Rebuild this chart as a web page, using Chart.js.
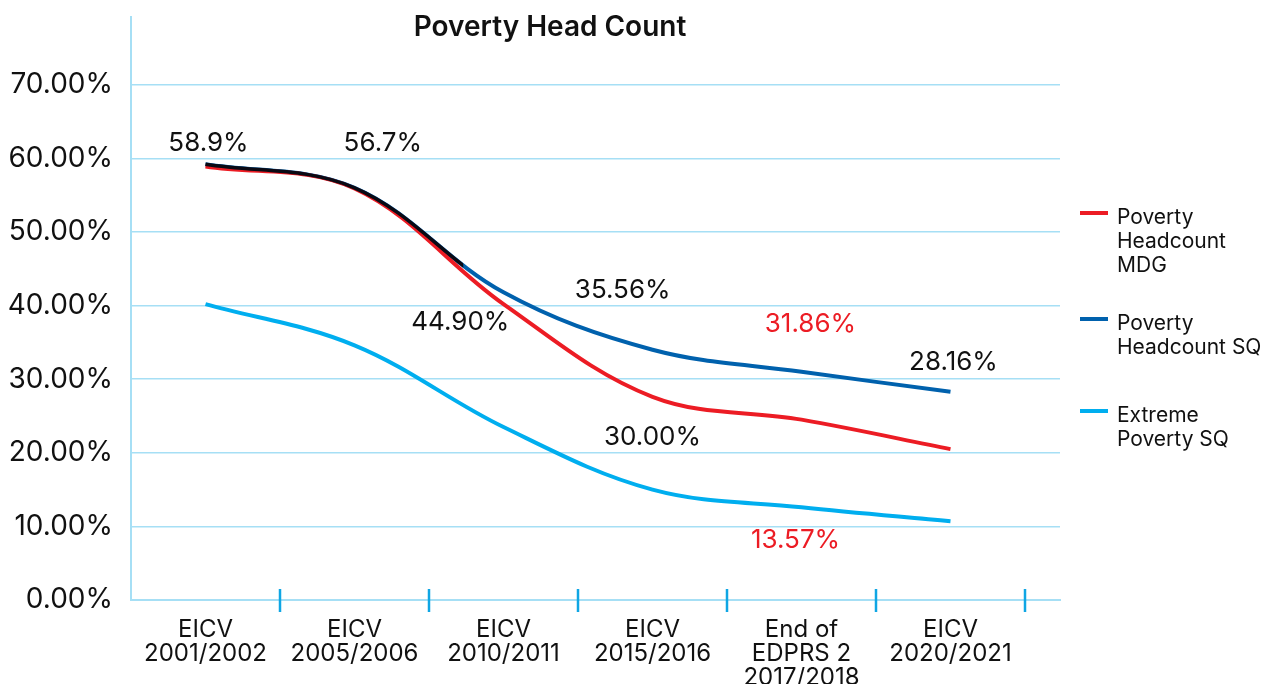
<!DOCTYPE html>
<html>
<head>
<meta charset="utf-8">
<script src="https://cdn.jsdelivr.net/npm/chart.js@4.4.1/dist/chart.umd.min.js"></script>
<style>
  html, body { margin: 0; padding: 0; background: #fff; }
  #wrap { width: 1266px; height: 684px; position: relative; }
</style>
</head>
<body>
<div id="wrap"><canvas id="chart"></canvas></div>
<script>
// categories on the x axis (one per survey round)
const categories = [
    ['EICV', '2001/2002'],
    ['EICV', '2005/2006'],
    ['EICV', '2010/2011'],
    ['EICV', '2015/2016'],
    ['End of', 'EDPRS 2', '2017/2018'],
    ['EICV', '2020/2021']
];
const categoryPos = [0.5, 1.5, 2.5, 3.5, 4.5, 5.5];
const boundaryTicks = [1, 2, 3, 4, 5, 6];

// series values (%)
const mdgValues = [58.9, 55.9, 40.2, 27.6, 24.5, 20.5];
const sqValues = [59.2, 56.0, 41.8, 34.0, 31.0, 28.3];
const extremeValues = [40.2, 34.6, 23.5, 15.0, 12.6, 10.7];
// the black overlay follows the SQ curve and stops here (x units)
const historicEnd = 2.23;

const yTicks = [0, 10, 20, 30, 40, 50, 60, 70];

// value labels written on the plot
const noteText = ['58.9%', '56.7%', '44.90%', '35.56%', '30.00%', '31.86%', '13.57%', '28.16%'];
const noteX = [0.52, 1.69, 2.21, 3.30, 3.50, 4.56, 4.46, 5.52];
const noteY = [62.1, 62.1, 37.8, 42.1, 22.1, 37.5, 8.15, 32.3];
const noteRed = [false, false, false, false, false, true, true, false];

const legendNames = [['Poverty', 'Headcount', 'MDG'], ['Poverty', 'Headcount SQ'], ['Extreme', 'Poverty SQ']];

const RED = '#ec1c24', BLUE = '#0061ad', LIGHT = '#00aeef', GRID = '#a6dff5';
const FONT = 'Inter, "Noto Sans", sans-serif';
const X_MAX = 6.235, PLOT_RIGHT = 1060, PLOT_LEFT = 131;

function pts(xs, ys) { return ys.map((v, i) => ({ x: xs[i], y: v })); }

const extras = {
    id: 'extras',
    afterDraw(chart) {
        const { ctx, scales: { x, y } } = chart;
        ctx.save();
        // tick marks between categories
        ctx.strokeStyle = '#0fa6e4';
        ctx.lineWidth = 2.5;
        boundaryTicks.forEach(b => {
            const px = Math.round(x.getPixelForValue(b));
            ctx.beginPath();
            ctx.moveTo(px, y.bottom - 11);
            ctx.lineTo(px, y.bottom + 12);
            ctx.stroke();
        });
        // value labels
        ctx.font = '26px ' + FONT;
        ctx.textAlign = 'center';
        ctx.textBaseline = 'middle';
        noteText.forEach((t, i) => {
            ctx.fillStyle = noteRed[i] ? RED : '#111';
            ctx.fillText(t, x.getPixelForValue(noteX[i]), y.getPixelForValue(noteY[i]));
        });
        // title
        ctx.font = '600 28px ' + FONT;
        ctx.fillStyle = '#111';
        ctx.fillText('Poverty Head Count', 550, 28);
        // legend
        const colors = [RED, BLUE, LIGHT];
        const starts = [218, 324, 416];
        ctx.font = '21px ' + FONT;
        ctx.textAlign = 'left';
        legendNames.forEach((lines, i) => {
            ctx.strokeStyle = colors[i];
            ctx.lineWidth = 4;
            ctx.beginPath();
            ctx.moveTo(1080, starts[i] - 5);
            ctx.lineTo(1108, starts[i] - 5);
            ctx.stroke();
            ctx.fillStyle = '#111';
            lines.forEach((l, j) => ctx.fillText(l, 1117, starts[i] + j * 24));
        });
        ctx.restore();
    }
};

const lineStyle = { borderWidth: 4, pointRadius: 0, tension: 0.36, fill: false };
// clip the black overlay so it ends at historicEnd
const blackClipRight = -((X_MAX - historicEnd) / X_MAX) * (PLOT_RIGHT - PLOT_LEFT);

new Chart(document.getElementById('chart'), {
    type: 'line',
    data: {
        datasets: [
            { label: 'Historic', data: pts(categoryPos, sqValues), borderColor: '#0a0a14', order: 0, ...lineStyle, borderWidth: 3.5,
              clip: { left: 5, top: 5, bottom: 5, right: blackClipRight } },
            { label: 'Poverty Headcount SQ', data: pts(categoryPos, sqValues), borderColor: BLUE, order: 2, ...lineStyle },
            { label: 'Poverty Headcount MDG', data: pts(categoryPos, mdgValues), borderColor: RED, order: 1, ...lineStyle },
            { label: 'Extreme Poverty SQ', data: pts(categoryPos, extremeValues), borderColor: LIGHT, order: 3, ...lineStyle }
        ]
    },
    options: {
        responsive: true,
        maintainAspectRatio: false,
        animation: false,
        layout: { padding: { top: 17, right: 206, left: 0, bottom: 0 } },
        plugins: { legend: { display: false }, tooltip: { enabled: false }, title: { display: false } },
        scales: {
            x: {
                type: 'linear',
                min: 0,
                max: X_MAX,
                afterBuildTicks: s => { s.ticks = categoryPos.map(v => ({ value: v })); },
                afterFit: s => { s.height = 84; s.paddingLeft = 0; s.paddingRight = 0; },
                grid: { display: false },
                border: { color: GRID, width: 2 },
                ticks: {
                    autoSkip: false,
                    maxRotation: 0,
                    padding: 10,
                    color: '#111',
                    font: { family: FONT, size: 24, lineHeight: 1.0 },
                    callback: (v, i) => categories[i]
                }
            },
            y: {
                min: 0,
                max: 79.2,
                afterBuildTicks: s => { s.ticks = yTicks.map(v => ({ value: v })); },
                afterFit: s => { s.width = 131; s.paddingTop = 0; s.paddingBottom = 0; },
                grid: { color: GRID, lineWidth: 1.5, drawTicks: false },
                border: { color: GRID, width: 2 },
                ticks: {
                    padding: 18,
                    color: '#111',
                    font: { family: FONT, size: 28 },
                    callback: v => v.toFixed(2) + '%'
                }
            }
        }
    },
    plugins: [extras]
});
</script>
</body>
</html>
